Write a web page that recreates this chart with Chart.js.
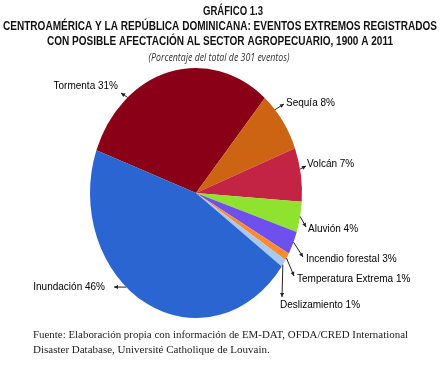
<!DOCTYPE html>
<html lang="es">
<head>
<meta charset="UTF-8">
<title>Gráfico 1.3</title>
<script src="https://cdn.jsdelivr.net/npm/chart.js"></script>
<style>
  html, body { margin: 0; padding: 0; background: #fff; }
  #wrap { width: 445px; height: 366px; position: relative; }
</style>
</head>
<body>
<div id="wrap"><canvas id="chartCanvas"></canvas></div>
<script>
// data, clockwise starting at the top-left boundary
const categories = ['Tormenta', 'Sequía', 'Volcán', 'Aluvión', 'Incendio forestal', 'Temperatura Extrema', 'Deslizamiento', 'Inundación'];
const values = [31, 8, 7, 4, 3, 1, 1, 46];
const colors = ['#8a0016', '#cc6414', '#c32443', '#8fe22d', '#6e50ef', '#ff8b2f', '#a9c9f1', '#2b65d1'];

const titleLines = ['GRÁFICO 1.3',
  'CENTROAMÉRICA Y LA REPÚBLICA DOMINICANA: EVENTOS EXTREMOS REGISTRADOS',
  'CON POSIBLE AFECTACIÓN AL SECTOR AGROPECUARIO, 1900 A 2011'];
const subtitle = '(Porcentaje del total de 301 eventos)';
const footer = ['Fuente: Elaboración propia con información de EM-DAT, OFDA/CRED International',
  'Disaster Database, Université Catholique de Louvain.'];

// pie is drawn squashed horizontally
const SX = 0.848;

// where each label sits: t = position along the slice edge for the leader
const labelLayout = [
  { t: 0.27, end: [121, 93], text: [118, 86], align: 'right' },
  { t: 0.27, end: [284, 104], text: [286, 103], align: 'left' },
  { t: 0.40, end: [306, 166], text: [307, 164], align: 'left' },
  { t: 0.48, end: [306, 227], text: [308, 229], align: 'left' },
  { t: 0.46, end: [303, 257], text: [306, 259], align: 'left' },
  { t: 0.70, end: [294, 276], text: [297, 279], align: 'left' },
  { t: 0.70, end: [282, 297], text: [280, 305], align: 'left' },
  { t: 0.58, end: [114, 287], text: [105, 287], align: 'right' }
];

const ellipsePlugin = {
  id: 'ellipse',
  beforeDatasetsDraw(chart) {
    const { ctx, chartArea } = chart;
    const cx = (chartArea.left + chartArea.right) / 2;
    ctx.save();
    ctx.translate(cx, 0);
    ctx.scale(SX, 1);
    ctx.translate(-cx, 0);
  },
  afterDatasetsDraw(chart) {
    chart.ctx.restore();
  }
};

function arrowHead(ctx, x0, y0, x1, y1) {
  const a = Math.atan2(y1 - y0, x1 - x0);
  const L = 4, W = 2;
  ctx.beginPath();
  ctx.moveTo(x1, y1);
  ctx.lineTo(x1 - L * Math.cos(a) + W * Math.sin(a), y1 - L * Math.sin(a) - W * Math.cos(a));
  ctx.lineTo(x1 - L * Math.cos(a) - W * Math.sin(a), y1 - L * Math.sin(a) + W * Math.cos(a));
  ctx.closePath();
  ctx.fill();
}

const textPlugin = {
  id: 'texts',
  afterDraw(chart) {
    const ctx = chart.ctx;
    ctx.save();
    ctx.fillStyle = '#111';
    ctx.textAlign = 'center';
    ctx.textBaseline = 'middle';

    // titles
    ctx.font = 'bold 13px "Liberation Sans Narrow", "Liberation Sans", Arial, sans-serif';
    ctx.fillText(titleLines[0], 233, 11, 60);
    ctx.fillText(titleLines[1], 220, 26, 434);
    ctx.fillText(titleLines[2], 220, 41, 346);
    ctx.fillStyle = '#333';
    ctx.font = 'italic 11px "Open Sans", sans-serif';
    ctx.fillText(subtitle, 219, 58, 141);

    // footer
    ctx.fillStyle = '#222';
    ctx.textAlign = 'left';
    ctx.font = '11px "Liberation Serif", serif';
    ctx.fillText(footer[0], 33, 335, 375);
    ctx.fillText(footer[1], 33, 350);

    // slice labels with leader lines
    const arcs = chart.getDatasetMeta(0).data;
    ctx.font = '10px "Liberation Sans", Arial, sans-serif';
    ctx.strokeStyle = '#222';
    ctx.lineWidth = 1;
    arcs.forEach((arc, i) => {
      const lay = labelLayout[i];
      const a = arc.startAngle + lay.t * (arc.endAngle - arc.startAngle);
      const px = arc.x + Math.cos(a) * arc.outerRadius * SX;
      const py = arc.y + Math.sin(a) * arc.outerRadius;
      const [ex, ey] = lay.end;
      ctx.fillStyle = '#222';
      ctx.beginPath();
      ctx.moveTo(px, py);
      ctx.lineTo(ex, ey);
      ctx.stroke();
      arrowHead(ctx, px, py, ex, ey);
      ctx.fillStyle = '#000';
      ctx.textAlign = lay.align;
      ctx.fillText(categories[i] + ' ' + values[i] + '%', lay.text[0], lay.text[1]);
    });
    ctx.restore();
  }
};

new Chart(document.getElementById('chartCanvas'), {
  type: 'pie',
  data: {
    labels: categories,
    datasets: [{
      data: values,
      backgroundColor: colors,
      borderWidth: 0,
      hoverOffset: 0,
      offset: 0
    }]
  },
  options: {
    responsive: true,
    maintainAspectRatio: false,
    animation: false,
    events: [],
    rotation: -70,
    layout: { padding: { left: 71, right: 124, top: 68, bottom: 48 } },
    plugins: {
      legend: { display: false },
      tooltip: { enabled: false }
    }
  },
  plugins: [ellipsePlugin, textPlugin]
});
</script>
</body>
</html>
